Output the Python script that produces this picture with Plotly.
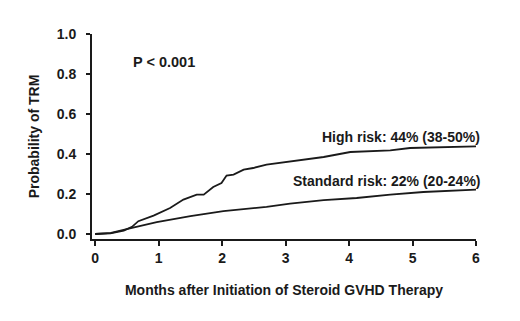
import plotly.graph_objects as go

# Data
high_months = [0, 0.24, 0.45, 0.58, 0.68, 0.92, 1.18, 1.39, 1.6, 1.71, 1.86, 1.99, 2.07, 2.18, 2.34, 2.49, 2.7, 3.07, 3.6, 4.02, 4.65, 4.96, 6.0]
high_prob = [0, 0.003, 0.017, 0.036, 0.064, 0.092, 0.13, 0.172, 0.197, 0.197, 0.235, 0.255, 0.292, 0.297, 0.322, 0.33, 0.347, 0.363, 0.385, 0.41, 0.418, 0.43, 0.438]
std_months = [0, 0.25, 0.58, 0.97, 1.5, 2.02, 2.7, 3.07, 3.6, 4.12, 4.65, 5.17, 6.0]
std_prob = [0, 0.006, 0.031, 0.059, 0.089, 0.114, 0.136, 0.152, 0.169, 0.18, 0.197, 0.21, 0.222]
x_ticks = [0, 1, 2, 3, 4, 5, 6]
y_ticks = [0.0, 0.2, 0.4, 0.6, 0.8, 1.0]

FONT = "Liberation Sans, Arial, sans-serif"
INK = "#1a1a1a"
FS = 14

fig = go.Figure()
fig.add_trace(go.Scatter(x=high_months, y=high_prob, mode="lines",
                         line=dict(color=INK, width=1.8), showlegend=False))
fig.add_trace(go.Scatter(x=std_months, y=std_prob, mode="lines",
                         line=dict(color=INK, width=1.8), showlegend=False))

fig.add_annotation(x=0.57, y=0.86, text="<b>P &lt; 0.001</b>", showarrow=False,
                   xanchor="left", yanchor="middle", font=dict(size=14.5, color=INK, family=FONT))
fig.add_annotation(xref="paper", yref="paper", x=1.016, y=0.499,
                   text="<b>High risk: 44% (38-50%)</b>", showarrow=False,
                   xanchor="right", yanchor="middle", font=dict(size=FS, color=INK, family=FONT))
fig.add_annotation(xref="paper", yref="paper", x=1.018, y=0.285,
                   text="<b>Standard risk: 22% (20-24%)</b>", showarrow=False,
                   xanchor="right", yanchor="middle", font=dict(size=FS, color=INK, family=FONT))

fig.update_layout(
    width=520, height=321,
    margin=dict(l=84, r=52, t=26, b=90),
    paper_bgcolor="white", plot_bgcolor="white",
    font=dict(family=FONT, color=INK, size=FS),
)
fig.update_xaxes(range=[-0.05, 6], tickvals=x_ticks, ticktext=[f"<b>{v}</b>" for v in x_ticks],
                 showgrid=False, zeroline=False, showline=True, linecolor=INK, linewidth=2,
                 ticks="outside", ticklen=5, tickwidth=1.5, tickcolor=INK,
                 tickfont=dict(size=FS, family=FONT, color=INK),
                 title=dict(text="<b>Months after Initiation of Steroid GVHD Therapy</b>",
                            font=dict(size=FS, family=FONT, color=INK), standoff=20))
fig.update_yaxes(range=[-0.025, 1.0], tickvals=y_ticks, ticktext=[f"<b>{v:.1f}</b>" for v in y_ticks],
                 showgrid=False, zeroline=False, showline=True, linecolor=INK, linewidth=2,
                 ticks="outside", ticklen=4, tickwidth=1.5, tickcolor=INK, ticklabelstandoff=7,
                 tickfont=dict(size=FS, family=FONT, color=INK),
                 title=dict(text="<b>Probability of TRM</b>",
                            font=dict(size=FS, family=FONT, color=INK), standoff=14))

fig.write_html("out.html")
